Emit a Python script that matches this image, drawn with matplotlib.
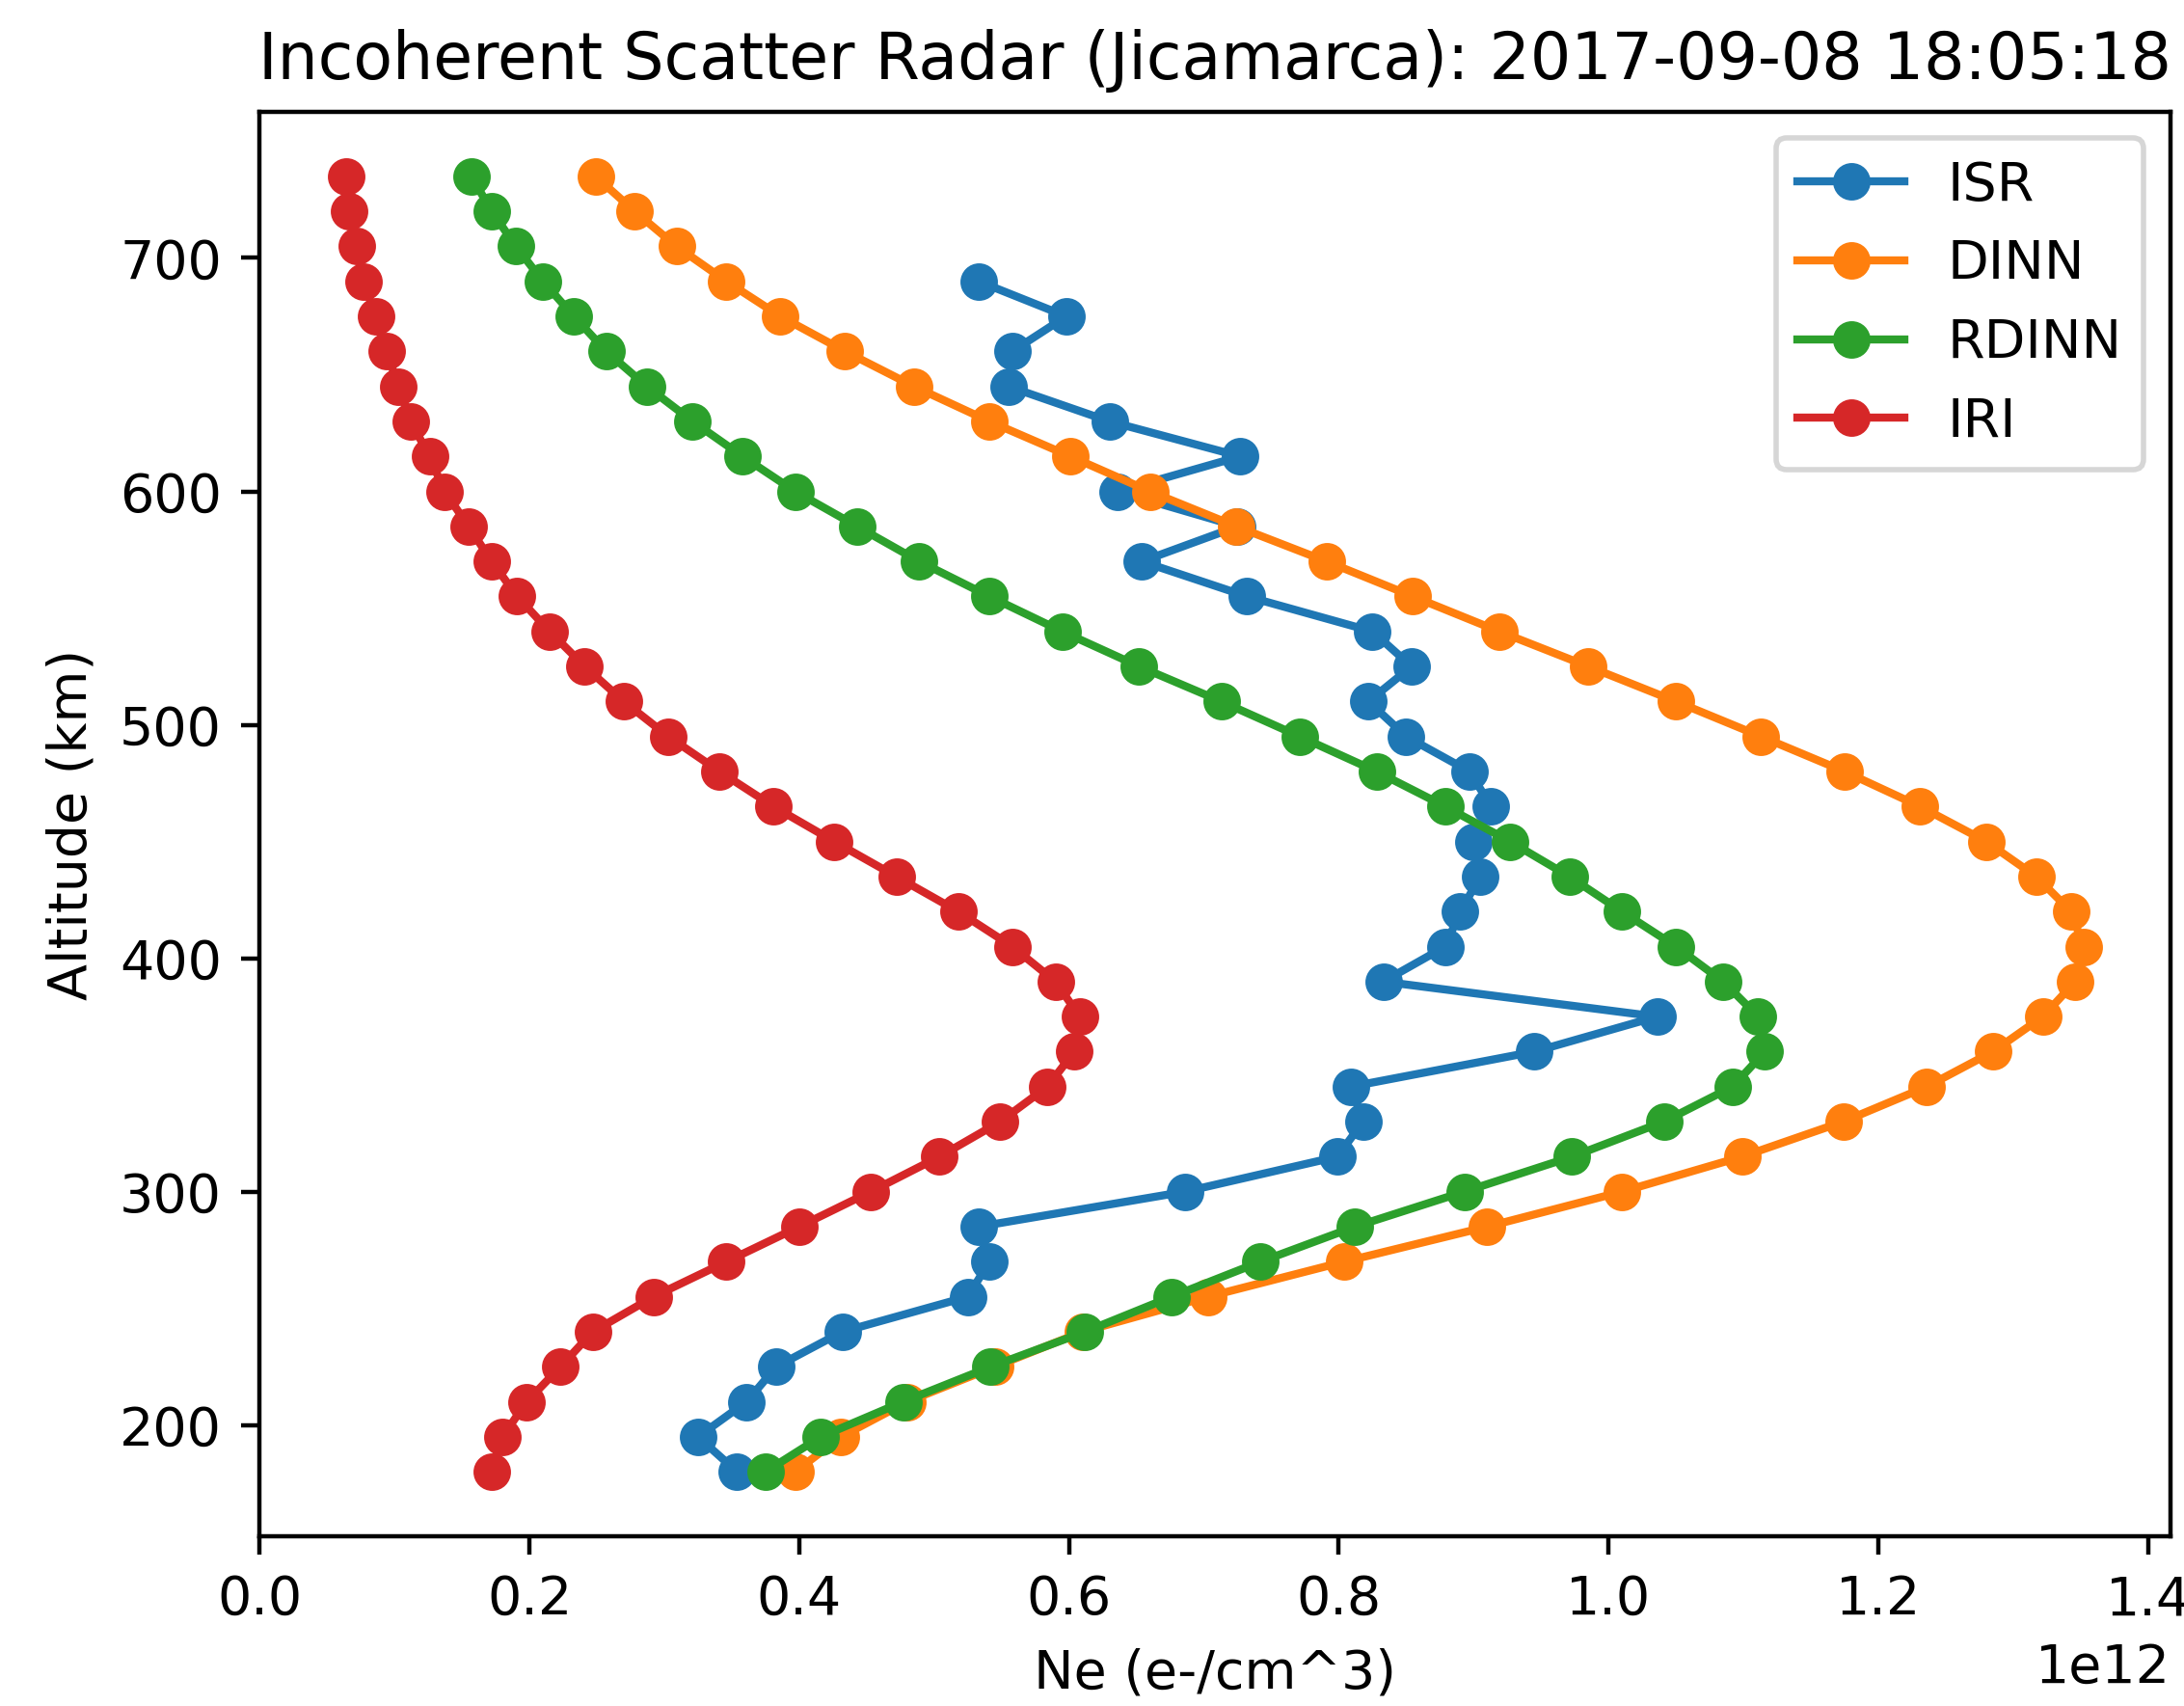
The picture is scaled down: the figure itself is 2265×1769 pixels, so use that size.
import numpy as np
import matplotlib
matplotlib.use("Agg")
import matplotlib.pyplot as plt

alt_isr = [180, 195, 210, 225, 240, 255, 270, 285, 300, 315, 330, 345, 360, 375,
           390, 405, 420, 435, 450, 465, 480, 495, 510, 525, 540, 555, 570, 585,
           600, 615, 630, 645, 660, 675, 690]
ne_isr = [0.354, 0.325, 0.361, 0.383, 0.432, 0.525, 0.541, 0.533, 0.686, 0.799,
          0.818, 0.809, 0.945, 1.036, 0.833, 0.879, 0.890, 0.905, 0.900, 0.913,
          0.897, 0.850, 0.822, 0.854, 0.825, 0.732, 0.654, 0.725, 0.636, 0.727,
          0.630, 0.555, 0.558, 0.598, 0.533]

alt_model = [180, 195, 210, 225, 240, 255, 270, 285, 300, 315, 330, 345, 360, 375,
             390, 405, 420, 435, 450, 465, 480, 495, 510, 525, 540, 555, 570, 585,
             600, 615, 630, 645, 660, 675, 690, 705, 720, 735]
ne_dinn = [0.397, 0.431, 0.480, 0.545, 0.610, 0.703, 0.804, 0.910, 1.010, 1.099,
           1.174, 1.236, 1.285, 1.322, 1.346, 1.352, 1.343, 1.317, 1.280, 1.231,
           1.175, 1.113, 1.050, 0.985, 0.919, 0.855, 0.791, 0.724, 0.660, 0.601,
           0.541, 0.485, 0.434, 0.386, 0.346, 0.309, 0.278, 0.249]
ne_rdinn = [0.375, 0.416, 0.477, 0.542, 0.612, 0.676, 0.742, 0.812, 0.893, 0.973,
            1.041, 1.092, 1.116, 1.111, 1.085, 1.050, 1.010, 0.971, 0.927, 0.879,
            0.828, 0.771, 0.713, 0.652, 0.595, 0.541, 0.489, 0.443, 0.397, 0.358,
            0.321, 0.287, 0.257, 0.233, 0.210, 0.190, 0.172, 0.157]
ne_iri = [0.172, 0.180, 0.198, 0.223, 0.247, 0.292, 0.346, 0.400, 0.453, 0.504,
          0.549, 0.584, 0.604, 0.608, 0.590, 0.558, 0.518, 0.472, 0.426, 0.381,
          0.341, 0.303, 0.270, 0.241, 0.215, 0.191, 0.172, 0.155, 0.137, 0.126,
          0.112, 0.103, 0.094, 0.086, 0.077, 0.072, 0.066, 0.064]

scale = 1e12

fig = plt.figure(figsize=(2265 / 400, 1769 / 400), dpi=400)
ax = fig.add_axes([0.11863, 0.09932, 0.87506, 0.83533])

ax.plot(np.array(ne_isr) * scale, alt_isr, marker='o', label='ISR')
ax.plot(np.array(ne_dinn) * scale, alt_model, marker='o', label='DINN')
ax.plot(np.array(ne_rdinn) * scale, alt_model, marker='o', label='RDINN')
ax.plot(np.array(ne_iri) * scale, alt_model, marker='o', label='IRI')

ax.set_title('Incoherent Scatter Radar (Jicamarca): 2017-09-08 18:05:18')
ax.set_xlabel('Ne (e-/cm^3)')
ax.set_ylabel('Altitude (km)')
ax.legend(loc='upper right')

fig.savefig('out.png', dpi=400)
